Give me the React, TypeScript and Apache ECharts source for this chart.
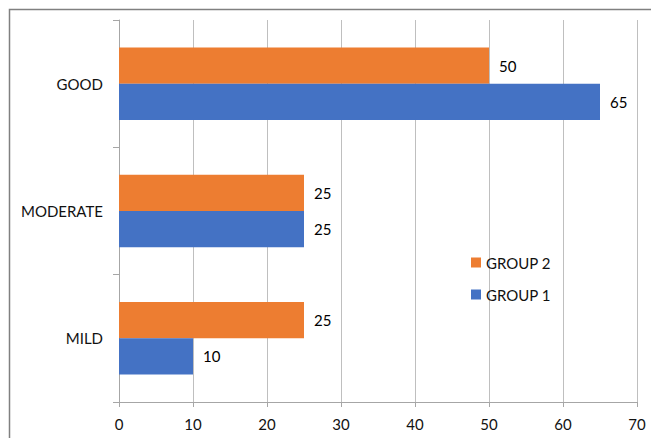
import React, { useEffect, useRef } from "react";
import * as echarts from "echarts";

const categories = ["MILD", "MODERATE", "GOOD"];
const group1 = [10, 25, 65];
const group2 = [25, 25, 50];
const seriesNames = ["GROUP 1", "GROUP 2"];
const xTicks = { min: 0, max: 70, interval: 10 };

const FONT = "Lato, 'Open Sans', sans-serif";
const FS = 15;

export default function App() {
  const ref = useRef<HTMLDivElement>(null);
  useEffect(() => {
    if (!ref.current) return;
    const chart = echarts.init(ref.current, undefined, { renderer: "svg" });
    const labelStyle = {
      show: true,
      position: "right" as const,
      distance: 10,
      color: "#000",
      fontSize: FS,
      fontFamily: FONT,
    };
    chart.setOption({
      animation: false,
      backgroundColor: "#fff",
      textStyle: { fontFamily: FONT },
      graphic: [
        {
          type: "rect",
          shape: { x: 9.5, y: 9.5, width: 800, height: 600 },
          style: { fill: "none", stroke: "#808080", lineWidth: 1.5 },
          silent: true,
        },
      ],
      legend: {
        orient: "vertical",
        left: 466,
        top: 250,
        itemWidth: 10,
        itemHeight: 10,
        itemGap: 17,
        icon: "rect",
        data: [seriesNames[1], seriesNames[0]],
        textStyle: { fontSize: FS, color: "#111", fontFamily: FONT },
      },
      grid: { left: 119, right: 14, top: 20, bottom: 36, containLabel: false },
      xAxis: {
        type: "value",
        min: xTicks.min,
        max: xTicks.max,
        interval: xTicks.interval,
        axisLine: { show: true, lineStyle: { color: "#a6a6a6", width: 1 } },
        axisTick: { show: true, length: 5, lineStyle: { color: "#a6a6a6" } },
        axisLabel: { color: "#111", fontSize: FS, margin: 14, fontFamily: FONT },
        splitLine: { show: true, lineStyle: { color: "#bfbfbf", width: 1 } },
      },
      yAxis: {
        type: "category",
        data: categories,
        axisLine: { show: true, lineStyle: { color: "#a6a6a6", width: 1 } },
        axisTick: { show: true, length: 6, lineStyle: { color: "#a6a6a6" } },
        axisLabel: { color: "#111", fontSize: FS, margin: 16, fontFamily: FONT },
      },
      series: [
        {
          name: seriesNames[1],
          type: "bar",
          data: group2,
          itemStyle: { color: "#ed7d31" },
          barGap: "0%",
          barCategoryGap: "43%",
          label: labelStyle,
        },
        {
          name: seriesNames[0],
          type: "bar",
          data: group1,
          itemStyle: { color: "#4472c4" },
          barGap: "0%",
          barCategoryGap: "43%",
          label: labelStyle,
        },
      ],
    });
    return () => chart.dispose();
  }, []);
  return (
    <div
      ref={ref}
      style={{ position: "fixed", left: 0, top: 0, width: 651, height: 438, background: "#fff" }}
    />
  );
}
